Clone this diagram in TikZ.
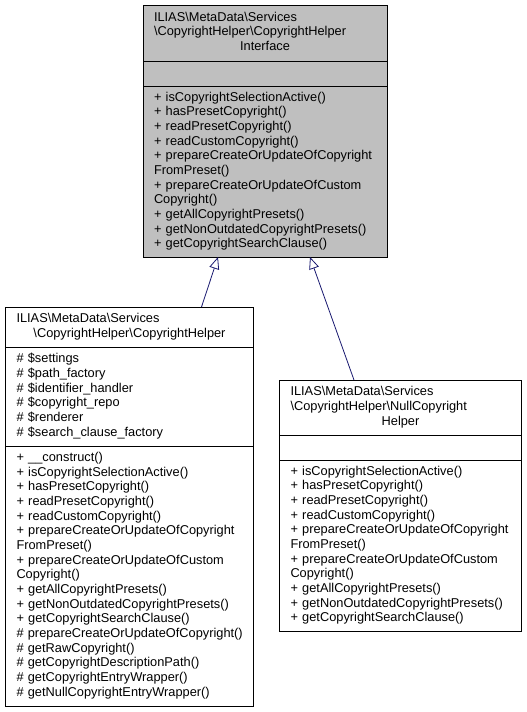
\documentclass[tikz,border=0pt]{standalone}
\usepackage{fontspec}
\setmainfont{Liberation Sans}
\usetikzlibrary{positioning,arrows.meta}
\definecolor{edgeblue}{RGB}{25,25,112}

\begin{document}
\begin{tikzpicture}[x=1pt, y=1pt,
	part/.style={draw, line width=0.8pt, fill=white, inner xsep=11pt, inner ysep=0pt, outer sep=0pt, align=left, font=\fontsize{12.8pt}{14.67pt}\selectfont, execute at begin node={\hyphenpenalty=10000 \exhyphenpenalty=10000 \strut}, execute at end node=\strut},
	ifpart/.style={part, fill=black!25, minimum width=244pt, text width=222pt},
	hppart/.style={part, minimum width=248pt, text width=226pt},
	nlpart/.style={part, minimum width=242pt, text width=220pt},
	inherit/.style={draw=edgeblue, line width=0.8pt, -{Triangle[open, length=12pt, width=10pt]}}]
	\useasboundingbox (0,0) rectangle (527,-712);
	\node[ifpart, minimum height=56pt] (iface) at (265,-33) {ILIAS\textbackslash MetaData\textbackslash Services\\\textbackslash CopyrightHelper\textbackslash CopyrightHelper\\\makebox[\linewidth]{Interface}};
	\node[ifpart, minimum height=25pt] (ifaceattr) [below=0pt of iface] {};
	\node[ifpart, minimum height=171pt] (ifaceops) [below=0pt of ifaceattr] {+~isCopyrightSelectionActive()\\+~hasPresetCopyright()\\+~readPresetCopyright()\\+~readCustomCopyright()\\+~prepareCreateOrUpdateOfCopyright\\FromPreset()\\+~prepareCreateOrUpdateOfCustom\\Copyright()\\+~getAllCopyrightPresets()\\+~getNonOutdatedCopyrightPresets()\\+~getCopyrightSearchClause()};
	\node[hppart, minimum height=40pt] (helper) at (129.5,-327) {ILIAS\textbackslash MetaData\textbackslash Services\\\makebox[\linewidth]{\textbackslash CopyrightHelper\textbackslash CopyrightHelper}};
	\node[hppart, minimum height=99pt] (helperattr) [below=0pt of helper] {\#~\$settings\\\#~\$path\_factory\\\#~\$identifier\_handler\\\#~\$copyright\_repo\\\#~\$renderer\\\#~\$search\_clause\_factory};
	\node[hppart, minimum height=260pt] (helperops) [below=0pt of helperattr] {+~\_\_construct()\\+~isCopyrightSelectionActive()\\+~hasPresetCopyright()\\+~readPresetCopyright()\\+~readCustomCopyright()\\+~prepareCreateOrUpdateOfCopyright\\FromPreset()\\+~prepareCreateOrUpdateOfCustom\\Copyright()\\+~getAllCopyrightPresets()\\+~getNonOutdatedCopyrightPresets()\\+~getCopyrightSearchClause()\\\#~prepareCreateOrUpdateOfCopyright()\\\#~getRawCopyright()\\\#~getCopyrightDescriptionPath()\\\#~getCopyrightEntryWrapper()\\\#~getNullCopyrightEntryWrapper()};
	\node[nlpart, minimum height=55pt] (nullhelper) at (400.5,-407.5) {ILIAS\textbackslash MetaData\textbackslash Services\\\textbackslash CopyrightHelper\textbackslash NullCopyright\\\makebox[\linewidth]{Helper}};
	\node[nlpart, minimum height=25pt] (nullattr) [below=0pt of nullhelper] {};
	\node[nlpart, minimum height=171pt] (nullops) [below=0pt of nullattr] {+~isCopyrightSelectionActive()\\+~hasPresetCopyright()\\+~readPresetCopyright()\\+~readCustomCopyright()\\+~prepareCreateOrUpdateOfCopyright\\FromPreset()\\+~prepareCreateOrUpdateOfCustom\\Copyright()\\+~getAllCopyrightPresets()\\+~getNonOutdatedCopyrightPresets()\\+~getCopyrightSearchClause()};
	\draw[inherit] ([xshift=72pt]helper.north) -- ([xshift=-47pt]ifaceops.south);
	\draw[inherit] ([xshift=-46.5pt]nullhelper.north) -- ([xshift=45pt]ifaceops.south);
\end{tikzpicture}
\end{document}
